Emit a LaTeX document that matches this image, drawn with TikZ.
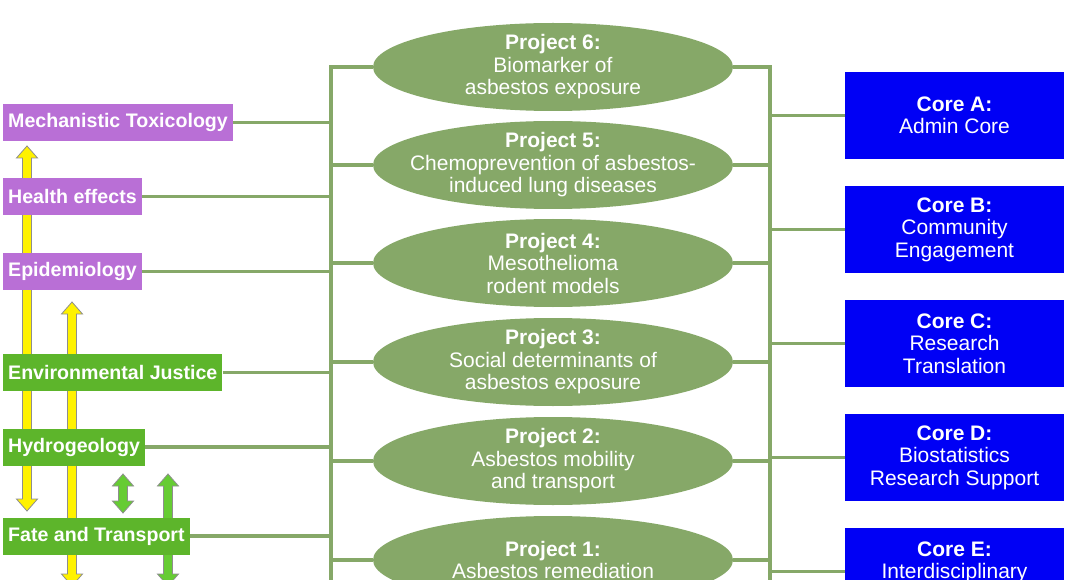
\documentclass[tikz,border=0pt]{standalone}
\usepackage{fontspec}
\setmainfont{Liberation Sans}
\usetikzlibrary{shapes.geometric}
\definecolor{linkgreen}{HTML}{86A868}
\definecolor{themepurple}{HTML}{B96FD6}
\definecolor{themegreen}{HTML}{5DB52B}
\definecolor{coreblue}{HTML}{0000F5}
\definecolor{arrowyellow}{HTML}{FFF200}
\definecolor{arrowgreen}{HTML}{66CC33}
\definecolor{arrowedge}{HTML}{8E8E8E}
\begin{document}
\begin{tikzpicture}[x=1pt,y=-1pt,
    theme/.style={rectangle,anchor=west,minimum height=37pt,inner xsep=5pt,inner ysep=0pt,
      text=white,font=\fontsize{19.6}{22}\selectfont\bfseries},
    project/.style={ellipse,fill=linkgreen,minimum width=360pt,minimum height=88pt,inner sep=0pt},
    projtext/.style={align=center,text=white,font=\fontsize{21}{22.5}\selectfont},
    core/.style={rectangle,fill=coreblue,minimum width=219pt,minimum height=87pt,inner sep=0pt,
      align=center,text=white,font=\fontsize{21}{22.5}\selectfont},
    link/.style={draw=linkgreen,line width=3.5pt}]
      \useasboundingbox[fill=white] (0,0) rectangle (1068,580);
      \def \Arrows{
        27/146/511/arrowyellow,
        72/302/586/arrowyellow,
        123/474/513/arrowgreen,
        168/474/586/arrowgreen}
      \def \Themes{
        mt/122.5/Mechanistic Toxicology/themepurple,
        he/196.5/Health effects/themepurple,
        epi/271.5/Epidemiology/themepurple,
        ej/372.5/Environmental Justice/themegreen,
        hyd/447/Hydrogeology/themegreen,
        ft/536/Fate and Transport/themegreen}
      \def \Projects{
        p6/67/{Project 6:}/{Biomarker of\\asbestos exposure},
        p5/165/{Project 5:}/{Chemoprevention of asbestos-\\induced lung diseases},
        p4/263/{Project 4:}/{Mesothelioma\\rodent models},
        p3/362/{Project 3:}/{Social determinants of\\asbestos exposure},
        p2/461/{Project 2:}/{Asbestos mobility\\and transport},
        p1/560/{Project 1:}/{Asbestos remediation}}
      \def \Cores{
        ca/115.5/{Core A:}/{Admin Core},
        cb/229.5/{Core B:}/{Community\\Engagement},
        cc/343.5/{Core C:}/{Research\\Translation},
        cd/457.5/{Core D:}/{Biostatistics\\Research Support},
        ce/571.5/{Core E:}/{Interdisciplinary\\\phantom{X}}}
      % block arrows behind the theme boxes
      \foreach \x / \ya / \yb / \col in \Arrows{
        \filldraw[fill=\col,draw=arrowedge,line width=0.8pt]
          (\x,\ya) -- ({\x+10.5},{\ya+12}) -- ({\x+4.5},{\ya+12}) -- ({\x+4.5},{\yb-12})
          -- ({\x+10.5},{\yb-12}) -- (\x,\yb) -- ({\x-10.5},{\yb-12}) -- ({\x-4.5},{\yb-12})
          -- ({\x-4.5},{\ya+12}) -- ({\x-10.5},{\ya+12}) -- cycle;
      }
      \foreach \id / \y / \lb / \col in \Themes{
        \node[theme,fill=\col] (\id) at (3,\y) {\lb};
      }
      \foreach \id / \y / \hd / \lb in \Projects{
        \node[project] (\id) at (553,\y) {};
        \node[projtext] (\id-txt) at (\id) {\textbf{\hd}\\\lb};
      }
      \foreach \id / \y / \hd / \lb in \Cores{
        \node[core] (\id) at (954.5,\y) {\textbf{\hd}\\\lb};
      }
      % buses
      \coordinate (lbus) at (331,582);
      \coordinate (rbus) at (770,582);
      \draw[link] (p6.west) -| (lbus);
      \draw[link] (p6.east) -| (rbus);
      \foreach \id in {p5,p4,p3,p2,p1}{
        \draw[link] (\id.west) -- (\id.west -| lbus);
        \draw[link] (\id.east) -- (\id.east -| rbus);
      }
      \foreach \id in {mt,he,epi,ej,hyd,ft}{
        \draw[link] (\id.east) -- (\id.east -| lbus);
      }
      \foreach \id in {ca,cb,cc,cd,ce}{
        \draw[link] (\id.west) -- (\id.west -| rbus);
      }
    \end{tikzpicture}
\end{document}
